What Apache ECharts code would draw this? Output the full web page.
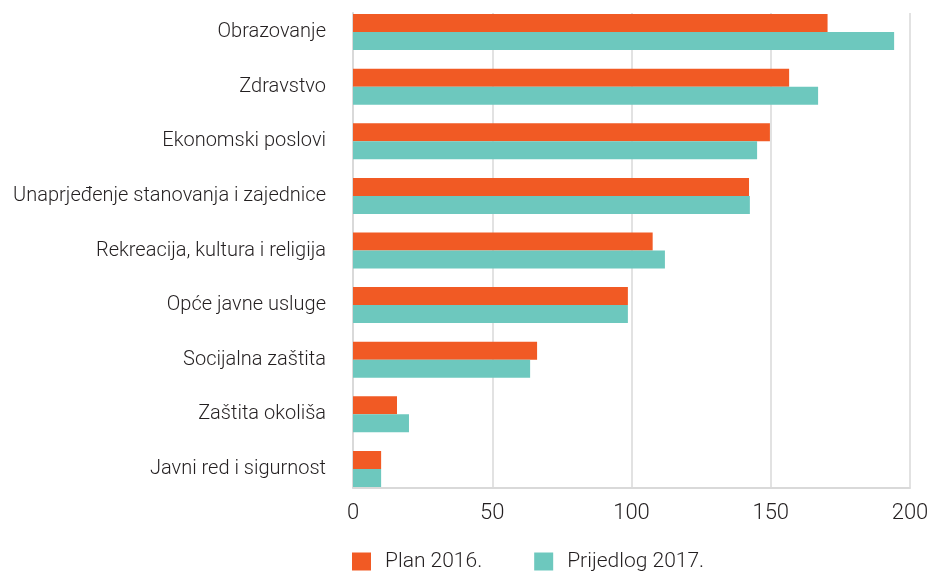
<!DOCTYPE html>
<html>
<head>
<meta charset="utf-8">
<script src="https://cdn.jsdelivr.net/npm/echarts@6/dist/echarts.min.js"></script>
<style>
html,body{margin:0;padding:0;background:#fff}
#chart{width:930px;height:574px}
</style>
</head>
<body>
<div id="chart"></div>
<script>
var categories = ['Obrazovanje', 'Zdravstvo', 'Ekonomski poslovi', 'Unaprjeđenje stanovanja i zajednice',
    'Rekreacija, kultura i religija', 'Opće javne usluge', 'Socijalna zaštita', 'Zaštita okoliša', 'Javni red i sigurnost'];
var plan2016 = [170.4, 156.6, 149.7, 142.2, 107.6, 98.7, 66.1, 15.8, 10.1];
var prijedlog2017 = [194.3, 167.0, 145.1, 142.5, 112.0, 98.7, 63.6, 20.1, 10.1];
var xTicks = [0, 50, 100, 150, 200];

var font = 'Roboto';
var textColor = '#231f20';

var chart = echarts.init(document.getElementById('chart'));

var option = {
    backgroundColor: '#fff',
    animation: false,
    textStyle: { fontFamily: font },
    legend: {
        left: 347,
        top: 546,
        itemWidth: 19,
        itemHeight: 18,
        itemGap: 52,
        icon: 'rect',
        textStyle: { fontSize: 21, color: textColor, fontFamily: font, fontWeight: 300, padding: [0, 0, 0, 9] },
        data: ['Plan 2016.', 'Prijedlog 2017.']
    },
    grid: [
        // bars
        { left: 353, right: 20, top: 4.7, bottom: 77.7, containLabel: false, outerBoundsMode: 'none' },
        // grid lines + x axis
        { left: 353, right: 20, top: 13, bottom: 86.5, containLabel: false, outerBoundsMode: 'none' }
    ],
    xAxis: [
        { gridIndex: 0, type: 'value', min: 0, max: 200, show: false },
        {
            gridIndex: 1, type: 'value', min: 0, max: 200, interval: 50,
            axisLine: { show: true, lineStyle: { color: '#d9d9d9', width: 2 } },
            axisTick: { show: false },
            splitLine: { show: true, lineStyle: { color: '#d9d9d9', width: 1.5 } },
            axisLabel: {
                margin: 15, fontSize: 22, color: textColor, fontFamily: font, fontWeight: 300,
                formatter: function (v) { return xTicks.indexOf(v) >= 0 ? String(v) : ''; }
            }
        }
    ],
    yAxis: [
        {
            gridIndex: 0, type: 'category', inverse: true, data: categories,
            axisLine: { show: false },
            axisTick: { show: false },
            axisLabel: { margin: 27, fontSize: 20, color: textColor, fontFamily: font, fontWeight: 300 }
        },
        {
            gridIndex: 1, type: 'value', min: 0, max: 1,
            axisLine: { show: true, lineStyle: { color: '#d9d9d9', width: 2 } },
            axisTick: { show: false },
            axisLabel: { show: false },
            splitLine: { show: false }
        }
    ],
    series: [
        {
            name: 'Plan 2016.',
            type: 'bar',
            xAxisIndex: 0, yAxisIndex: 0,
            barWidth: 18,
            barGap: 0,
            itemStyle: { color: '#f15a24' },
            data: plan2016
        },
        {
            name: 'Prijedlog 2017.',
            type: 'bar',
            xAxisIndex: 0, yAxisIndex: 0,
            barWidth: 18,
            barGap: 0,
            itemStyle: { color: '#6dc8be' },
            data: prijedlog2017
        }
    ]
};

chart.setOption(option);
</script>
</body>
</html>
